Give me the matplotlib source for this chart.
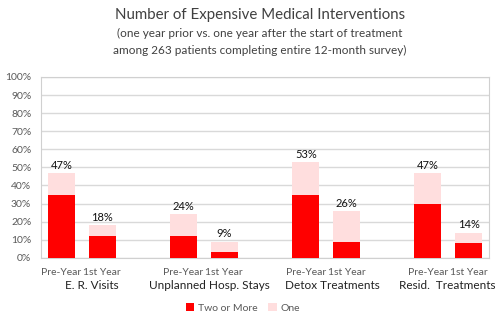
import numpy as np
import matplotlib.pyplot as plt

plt.rcParams['font.family'] = ['Lato', 'DejaVu Sans']

groups = ['E. R. Visits', 'Unplanned Hosp. Stays', 'Detox Treatments', 'Resid.  Treatments']
periods = ['Pre-Year', '1st Year']
two_or_more = [35, 12, 12, 3, 35, 9, 30, 8]
totals = [47, 18, 24, 9, 53, 26, 47, 14]
one = [t - d for t, d in zip(totals, two_or_more)]

# two bars per group, one empty slot between groups
pos = np.array([0, 1, 3, 4, 6, 7, 9, 10])

fig = plt.figure(figsize=(5, 3.26), dpi=100)
ax = fig.add_axes([0.082, 0.209, 0.896, 0.555])

ax.bar(pos, two_or_more, width=0.66, color='#ff0000', label='Two or More', zorder=3)
ax.bar(pos, one, width=0.66, bottom=two_or_more, color='#ffdede', label='One', zorder=3)

for x, t in zip(pos, totals):
    ax.text(x, t + 1.2, f'{t}%', ha='center', va='bottom', fontsize=8, color='#111111')

ax.set_xlim(-0.5, 10.5)
ax.set_ylim(0, 100)
ax.set_yticks(range(0, 101, 10))
ax.set_yticklabels([f'{v}%' for v in range(0, 101, 10)], fontsize=7.5, color='#595959')
ax.set_xticks(pos)
ax.set_xticklabels(periods * 4, fontsize=7.5, color='#595959')
ax.tick_params(length=0)
ax.tick_params(axis='y', pad=7)
ax.tick_params(axis='x', pad=7)
ax.grid(axis='y', color='#d9d9d9', linewidth=1, zorder=0)
for s in ax.spines.values():
    s.set_color('#d0d0d0')

group_x = [0.75, 3.64, 6.66, 9.48]
for gx, g in zip(group_x, groups):
    ax.text(gx, -12, g, ha='center', va='top', fontsize=8.5, color='#222222')

fig.text(0.52, 0.955, 'Number of Expensive Medical Interventions', ha='center', va='center',
         fontsize=10.8, color='#404040')
fig.text(0.52, 0.896, '(one year prior vs. one year after the start of treatment', ha='center',
         va='center', fontsize=8.5, color='#404040')
fig.text(0.52, 0.845, 'among 263 patients completing entire 12-month survey)', ha='center',
         va='center', fontsize=8.5, color='#404040')

fig.legend(loc='center', bbox_to_anchor=(0.486, 0.055), ncol=2, frameon=False, fontsize=7.5,
           handlelength=0.8, handleheight=0.8, columnspacing=1.0, handletextpad=0.4,
           labelcolor='#595959')

fig.savefig('out.png', dpi=100)
